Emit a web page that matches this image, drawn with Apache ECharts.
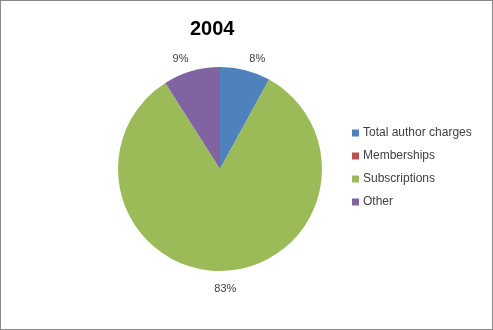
<!DOCTYPE html>
<html><head><meta charset="utf-8">
<script src="https://cdn.jsdelivr.net/npm/echarts@6/dist/echarts.min.js"></script>
<style>html,body{margin:0;padding:0;background:#fff}#c{width:493px;height:330px;box-sizing:border-box;border:1px solid #888}</style>
</head><body><div id="c"></div>
<script>
const categories = ['Total author charges', 'Memberships', 'Subscriptions', 'Other'];
const values = [8, 0, 83, 9];
const colors = ['#4F81BD', '#C0504D', '#9BBB59', '#8064A2'];
const titleText = '2004';
const labelShift = [[-2, -7], [0, 0], [-14, 14], [3, -8]];

const chart = echarts.init(document.getElementById('c'));
chart.setOption({
  animation: false,
  color: colors,
  title: {
    text: titleText, left: 184, top: 13,
    textStyle: { fontFamily: 'Liberation Sans', fontWeight: 'bold', fontSize: 20, color: '#000' }
  },
  legend: {
    orient: 'vertical', left: 346, top: 121, itemWidth: 7, itemHeight: 7, itemGap: 11,
    icon: 'rect',
    textStyle: { fontFamily: 'Liberation Sans', fontSize: 12, color: '#404040', padding: [0, 0, 0, -1] },
    data: categories
  },
  series: [{
    type: 'pie',
    center: [219, 168],
    radius: 102,
    startAngle: 90,
    clockwise: true,
    data: categories.map((n, i) => ({ name: n, value: values[i] })),
    label: {
      show: true, position: 'outside',
      formatter: p => p.value === 0 ? '' : p.value + '%',
      fontFamily: 'Liberation Sans', fontSize: 11, color: '#404040'
    },
    labelLine: { show: false, length: 4, length2: 0 },
    labelLayout: p => ({ dx: labelShift[p.dataIndex][0], dy: labelShift[p.dataIndex][1] }),
    emphasis: { disabled: true }
  }]
});
</script></body></html>
